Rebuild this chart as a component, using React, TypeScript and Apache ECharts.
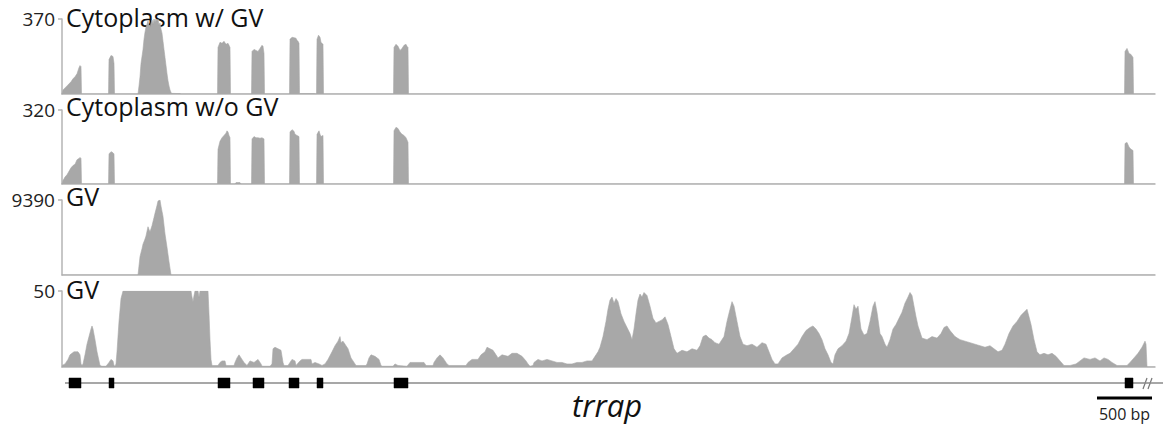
import React, { useEffect, useRef } from "react";
import * as echarts from "echarts";

// Positions are in relative bins along the locus (55 bins = 500 bp).
const trackTitles = ["Cytoplasm w/ GV", "Cytoplasm w/o GV", "GV", "GV"];
const trackMax = [370, 320, 9390, 50];
const geneName = "trrap";
const scaleLabel = "500 bp";
const scaleBar = [1035, 1090];
const locusMax = 1093;
const geneSpan = [3, 1101];

const exons: [number, number][] = [
  [7, 19], [47, 52], [156, 168], [191, 202], [227, 237], [255, 261], [332, 346], [1063, 1071],
];

const cytoWithGV: [number, number][] = [
  [0, 0], [1, 20], [3, 30], [5, 40], [7, 50], [9, 60], [11, 75], [13, 85], [15, 100], [17, 130], [18, 140], [19, 135], [19.5, 0],
  [46.5, 0], [47, 170], [49, 190], [51, 185], [52, 150], [52.5, 0],
  [76, 0], [77, 40], [78, 85], [79, 150], [81, 220], [82, 270], [83, 305], [84, 330], [85, 345], [86, 360], [87, 340], [88, 330],
  [89, 350], [90, 365], [91, 345], [92, 370], [93, 355], [94, 370], [95, 360], [96, 370], [97, 340], [98, 350], [99, 320],
  [100, 300], [101, 260], [102, 220], [103, 180], [104, 140], [105, 100], [106, 65], [107, 40], [108, 20], [109, 8], [110, 3],
  [118, 2], [119, 0],
  [155.5, 0], [156, 230], [158, 255], [160, 250], [162, 260], [164, 245], [166, 250], [167, 240], [168, 230], [168.5, 0],
  [189.5, 0], [190, 210], [192, 220], [194, 215], [196, 210], [198, 225], [200, 240], [201, 235], [202, 200], [202.5, 0],
  [227.5, 0], [228, 270], [230, 280], [232, 278], [234, 275], [235, 265], [236, 260], [237, 250], [237.5, 2], [252, 2],
  [254.5, 0], [255, 270], [256.5, 290], [258, 280], [259, 255], [260, 250], [261, 245], [261.5, 0],
  [331.5, 0], [332, 230], [334, 245], [336, 235], [338, 215], [340, 225], [342, 240], [344, 245], [345, 235], [346, 230], [346.5, 0],
  [1062.5, 0], [1063, 210], [1065, 225], [1067, 200], [1069, 195], [1071, 180], [1071.5, 0],
  [1093, 0],
];

const cytoWithoutGV: [number, number][] = [
  [0, 0], [1, 15], [3, 30], [5, 40], [7, 55], [9, 70], [11, 80], [13, 85], [15, 105], [17, 110], [18, 115], [19, 110], [19.5, 0],
  [46.5, 0], [47, 130], [49, 140], [51, 135], [52, 130], [52.5, 0],
  [155.5, 0], [156, 150], [158, 185], [160, 200], [162, 210], [164, 220], [165, 230], [166, 225], [167, 210], [168, 200], [168.5, 0],
  [173, 0], [174, 6], [178, 6], [179, 0],
  [189.5, 0], [190, 195], [192, 205], [194, 200], [196, 200], [198, 198], [200, 200], [202, 195], [202.5, 0],
  [227.5, 0], [228, 225], [230, 235], [232, 228], [233, 215], [235, 210], [237, 205], [237.5, 0],
  [254.5, 0], [255, 215], [257, 230], [258, 215], [259, 205], [261, 210], [261.5, 0],
  [331.5, 0], [332, 230], [334, 245], [336, 240], [338, 225], [340, 215], [342, 210], [344, 200], [345, 190], [346, 180], [346.5, 0],
  [1062.5, 0], [1063, 175], [1065, 180], [1067, 160], [1069, 150], [1071, 145], [1071.5, 0],
  [1093, 0],
];

const gvFull: [number, number][] = [
  [0, 0], [76, 0], [78, 2300], [80, 3300], [81, 3860], [83, 4500], [84, 4890], [86, 6040], [87, 5700], [88, 5400], [90, 6170],
  [92, 7200], [93, 7720], [95, 8700], [96, 9260], [98, 9390], [99, 8620], [101, 7330], [103, 5140], [105, 3470], [107, 1670],
  [109, 0], [1093, 0],
];

const gvZoom: [number, number][] = [
  [0, 1], [3, 2], [6, 5], [8, 8], [10, 9], [12, 10], [16, 10], [18, 8], [19, 2], [20, 1],
  [21, 2], [23, 8], [25, 15], [27, 20], [29, 25], [30, 27], [31, 25], [33, 18], [35, 10], [37, 4], [38, 1],
  [40, 0.5], [44, 0.5], [47, 3], [49, 5], [51, 4], [52, 1], [53, 0.5],
  [54, 2], [55, 10], [57, 30], [59, 45], [61, 50], [129, 50], [130, 46], [131, 43], [132, 47], [133, 50], [136, 50], [137, 46],
  [138, 50], [146, 50], [147, 35], [148, 18], [149, 5], [150, 1], [156, 1],
  [158, 3], [160, 4], [163, 4], [164, 1], [172, 1], [173, 3], [175, 6], [177, 8], [179, 6], [182, 3], [185, 1],
  [188, 4], [192, 3], [196, 5], [199, 2], [200, 0.5], [208, 0.5],
  [210, 2], [211, 12], [213, 13], [216, 12], [219, 11], [221, 3], [222, 1], [226, 1],
  [228, 3], [230, 5], [233, 4], [234, 1], [238, 4], [240, 5], [245, 5], [249, 5], [250, 2],
  [253, 3], [257, 2], [260, 1], [263, 2], [266, 5], [270, 10], [273, 14], [276, 17], [278, 20], [279, 16], [281, 17],
  [283, 15], [286, 12], [289, 6], [292, 3], [294, 1], [304, 1],
  [305, 2], [307, 6], [309, 8], [313, 7], [317, 5], [319, 1], [320, 0.5], [331, 0.5], [333, 2], [336, 1],
  [345, 0.5], [348, 3], [352, 3], [355, 3], [362, 3], [364, 1], [371, 1],
  [372, 3], [375, 6], [378, 8], [381, 6], [385, 2], [387, 1], [404, 1],
  [406, 3], [410, 5], [416, 5], [419, 8], [423, 10], [425, 13], [428, 12], [431, 11], [434, 8], [436, 6], [440, 8],
  [446, 7], [450, 9], [455, 9], [460, 7], [464, 4], [466, 2], [468, 0.5], [471, 1],
  [472, 3], [476, 5], [480, 4], [485, 5], [490, 4], [495, 3], [500, 3], [505, 2], [510, 2], [515, 3],
  [520, 3], [525, 4], [530, 4], [533, 7], [536, 10],
  [538, 13], [541, 20], [544, 30], [546, 38], [548, 44], [550, 46], [552, 42], [554, 45], [556, 43],
  [559, 35], [562, 30], [565, 26], [568, 22], [570, 18], [572, 25], [574, 35], [576, 44],
  [578, 48], [580, 46], [582, 49], [585, 47], [588, 40], [591, 32], [594, 29], [597, 30],
  [600, 31], [603, 33], [606, 28], [609, 20], [612, 12], [615, 9], [620, 11], [625, 10], [630, 12], [635, 11],
  [638, 14], [641, 20], [644, 21], [647, 19], [650, 18], [653, 16], [657, 15],
  [662, 20], [665, 30], [668, 38], [670, 43], [672, 40], [675, 30], [678, 20], [681, 15],
  [685, 14], [690, 15], [695, 13], [700, 16], [704, 15], [707, 10], [710, 5], [713, 2], [716, 2],
  [720, 6], [725, 8], [728, 9], [732, 12], [736, 15], [740, 20], [744, 24], [748, 26], [751, 27], [754, 25], [757, 22],
  [760, 18], [763, 12], [766, 8], [769, 3], [771, 2], [773, 8], [776, 12], [780, 14], [784, 17],
  [787, 22], [790, 33], [792, 41], [794, 38], [796, 40], [799, 25], [802, 21], [805, 22],
  [808, 30], [811, 40], [813, 43], [815, 36], [818, 22], [820, 20], [823, 15], [825, 13], [828, 18], [831, 25],
  [834, 28], [837, 32], [840, 36], [843, 42], [846, 46], [848, 49], [850, 47], [852, 40], [854, 33], [856, 27],
  [860, 19], [865, 18], [870, 20], [875, 19], [879, 22], [882, 26], [885, 27], [888, 24],
  [893, 20], [898, 18], [903, 17], [908, 16], [913, 15], [918, 14], [923, 13], [928, 14], [932, 12], [936, 10], [940, 11],
  [943, 15], [947, 22], [951, 27], [955, 30], [959, 34], [962, 36], [965, 38], [967, 33], [969, 28],
  [972, 18], [975, 10], [978, 8], [982, 9], [986, 8], [990, 9], [994, 7], [998, 4],
  [1002, 1], [1008, 1], [1014, 2], [1018, 4], [1022, 6], [1028, 5], [1033, 6], [1038, 4], [1042, 6], [1046, 5], [1050, 3],
  [1055, 1], [1060, 1], [1065, 1], [1068, 3], [1072, 6], [1076, 9], [1080, 13], [1083, 17], [1084, 15], [1085, 0], [1093, 0],
];

const tracks = [cytoWithGV, cytoWithoutGV, gvFull, gvZoom];

const FONT = "'Open Sans', 'Noto Sans', sans-serif";
const FILL = "#a8a8a8";
const AXIS = "#b4b4b4";

// layout
const LEFT = 62;
const WIDTH = 1093;
const gridTops = [19, 110, 200, 291];
const gridHeights = [75, 74, 75, 76];

export default function App() {
  const ref = useRef<HTMLDivElement>(null);
  useEffect(() => {
    document.body.style.margin = "0";
    const chart = echarts.init(ref.current!, null, { renderer: "svg" });

    const grids: any[] = gridTops.map((t, i) => ({ left: LEFT, top: t, width: WIDTH, height: gridHeights[i] }));
    grids.push({ left: LEFT, top: 373, width: WIDTH, height: 50 });

    const xAxes: any[] = grids.map((_, i) => ({
      type: "value",
      gridIndex: i,
      min: 0,
      max: locusMax,
      axisLine: { show: i < 4, lineStyle: { color: AXIS, width: 1.5 } },
      axisTick: { show: false },
      axisLabel: { show: false },
      splitLine: { show: false },
    }));

    const yAxes: any[] = trackMax.map((m, i) => ({
      type: "value",
      gridIndex: i,
      min: 0,
      max: m,
      interval: m,
      axisLine: { show: true, lineStyle: { color: AXIS, width: 1.5 } },
      axisTick: { show: true, length: 4, customValues: [m], lineStyle: { color: AXIS, width: 1.5 } },
      axisLabel: {
        show: true,
        customValues: [m],
        formatter: (v: number) => String(v),
        fontSize: 19,
        fontFamily: FONT,
        color: "#222",
        margin: 7,
      },
      splitLine: { show: false },
    }));
    yAxes.push({
      type: "value",
      gridIndex: 4,
      min: -4,
      max: 1,
      show: false,
    });

    const series: any[] = tracks.map((d, i) => ({
      type: "line",
      xAxisIndex: i,
      yAxisIndex: i,
      data: d.map(([x, y]) => [x, Math.min(y, trackMax[i])]),
      symbol: "none",
      lineStyle: { width: 0.6, color: FILL },
      areaStyle: { color: FILL, opacity: 1 },
      silent: true,
      z: 1,
    }));

    // intron line
    series.push({
      type: "custom",
      xAxisIndex: 4,
      yAxisIndex: 4,
      data: [geneSpan],
      encode: { x: [0, 1] },
      clip: false,
      silent: true,
      z: 1,
      renderItem: (params: any, api: any) => {
        const a = api.coord([api.value(0), 0]);
        const b = api.coord([api.value(1), 0]);
        return {
          type: "line",
          shape: { x1: a[0], y1: a[1], x2: b[0], y2: b[1] },
          style: { stroke: "#8a8a8a", lineWidth: 1.5 },
        };
      },
    });

    // exons
    series.push({
      type: "custom",
      xAxisIndex: 4,
      yAxisIndex: 4,
      data: exons,
      encode: { x: [0, 1] },
      clip: false,
      silent: true,
      z: 5,
      renderItem: (params: any, api: any) => {
        const a = api.coord([api.value(0), 0.5]);
        const b = api.coord([api.value(1), -0.5]);
        return {
          type: "rect",
          shape: { x: a[0], y: a[1], width: b[0] - a[0], height: b[1] - a[1] },
          style: { fill: "#000", stroke: "#000", lineWidth: 0.5 },
        };
      },
    });

    // scale bar
    series.push({
      type: "custom",
      xAxisIndex: 4,
      yAxisIndex: 4,
      data: [scaleBar],
      encode: { x: [0, 1] },
      clip: false,
      silent: true,
      renderItem: (params: any, api: any) => {
        const a = api.coord([api.value(0), -1.5]);
        const b = api.coord([api.value(1), -1.5]);
        return {
          type: "group",
          children: [
            { type: "line", shape: { x1: a[0], y1: a[1], x2: b[0], y2: b[1] }, style: { stroke: "#000", lineWidth: 3 } },
            {
              type: "text",
              style: {
                x: (a[0] + b[0]) / 2,
                y: a[1] + 16,
                text: scaleLabel,
                fontSize: 16,
                fontFamily: FONT,
                fill: "#222",
                align: "center",
                verticalAlign: "middle",
              },
            },
          ],
        };
      },
    });

    const titleY = [21, 110, 200, 293];
    const graphic: any[] = trackTitles.map((t, i) => ({
      type: "text",
      left: 66,
      top: titleY[i] - 17,
      style: { text: t, fontSize: 25, fontFamily: FONT, fill: "#111" },
      silent: true,
    }));
    graphic.push({
      type: "text",
      x: 607,
      y: 405,
      style: {
        text: geneName,
        fontSize: 31,
        fontStyle: "italic",
        fontFamily: FONT,
        fill: "#111",
        align: "center",
        verticalAlign: "middle",
      },
      silent: true,
    });
    // break marks on the gene line
    graphic.push({ type: "line", shape: { x1: 1143, y1: 389, x2: 1147, y2: 378 }, style: { stroke: "#777", lineWidth: 1.2 } });
    graphic.push({ type: "line", shape: { x1: 1148, y1: 389, x2: 1152, y2: 378 }, style: { stroke: "#777", lineWidth: 1.2 } });

    chart.setOption({
      animation: false,
      backgroundColor: "#fff",
      grid: grids,
      xAxis: xAxes,
      yAxis: yAxes,
      series,
      graphic,
    });
    return () => chart.dispose();
  }, []);
  return <div ref={ref} style={{ width: 1165, height: 425 }} />;
}
